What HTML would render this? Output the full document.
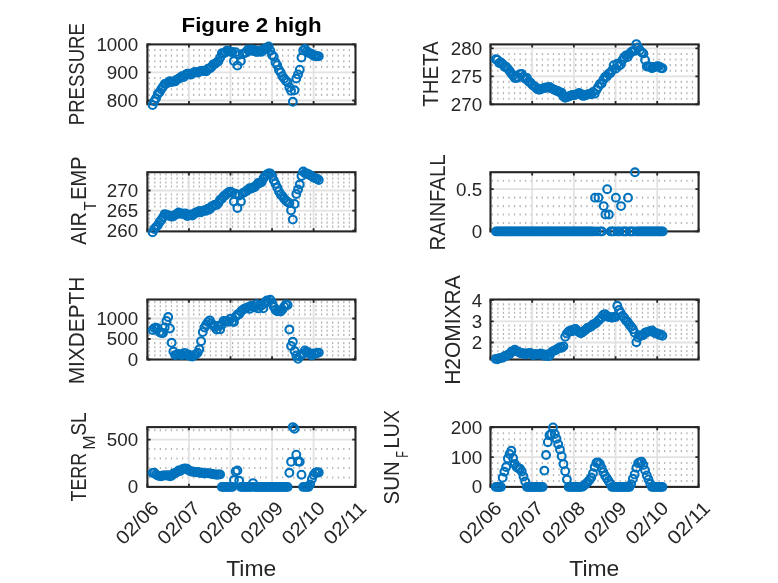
<!DOCTYPE html>
<html lang="en"><head><meta charset="utf-8"><title>Figure 2 high</title>
<style>html,body{margin:0;padding:0;background:#fff}body{width:778px;height:583px;position:relative;overflow:hidden}</style>
</head><body>
<svg width="778" height="583" viewBox="0 0 778 583" style="display:block;position:absolute;left:0;top:0" font-family="'Liberation Sans', 'DejaVu Sans', sans-serif" fill="#262626">
<rect width="778" height="583" fill="#fff"/>
<g><line x1="148.60" y1="94.89" x2="354.50" y2="94.89" stroke="#b4b4b4" stroke-width="2.1" stroke-dasharray="1.25 4.31"/><line x1="148.60" y1="89.28" x2="354.50" y2="89.28" stroke="#b4b4b4" stroke-width="2.1" stroke-dasharray="1.25 4.31"/><line x1="148.60" y1="83.67" x2="354.50" y2="83.67" stroke="#b4b4b4" stroke-width="2.1" stroke-dasharray="1.25 4.31"/><line x1="148.60" y1="78.06" x2="354.50" y2="78.06" stroke="#b4b4b4" stroke-width="2.1" stroke-dasharray="1.25 4.31"/><line x1="148.60" y1="66.84" x2="354.50" y2="66.84" stroke="#b4b4b4" stroke-width="2.1" stroke-dasharray="1.25 4.31"/><line x1="148.60" y1="61.23" x2="354.50" y2="61.23" stroke="#b4b4b4" stroke-width="2.1" stroke-dasharray="1.25 4.31"/><line x1="148.60" y1="55.62" x2="354.50" y2="55.62" stroke="#b4b4b4" stroke-width="2.1" stroke-dasharray="1.25 4.31"/><line x1="148.60" y1="50.01" x2="354.50" y2="50.01" stroke="#b4b4b4" stroke-width="2.1" stroke-dasharray="1.25 4.31"/><line x1="188.95" y1="44.40" x2="188.95" y2="104.30" stroke="#e2e2e2" stroke-width="1.8"/><line x1="230.50" y1="44.40" x2="230.50" y2="104.30" stroke="#e2e2e2" stroke-width="1.8"/><line x1="272.05" y1="44.40" x2="272.05" y2="104.30" stroke="#e2e2e2" stroke-width="1.8"/><line x1="313.60" y1="44.40" x2="313.60" y2="104.30" stroke="#e2e2e2" stroke-width="1.8"/><line x1="147.40" y1="72.45" x2="355.50" y2="72.45" stroke="#e2e2e2" stroke-width="1.8"/><line x1="147.40" y1="100.50" x2="355.50" y2="100.50" stroke="#e2e2e2" stroke-width="1.8"/><rect x="147.40" y="44.40" width="208.10" height="59.90" fill="none" stroke="#262626" stroke-width="2.1"/><path d="M147.40 104.30v-3.2M147.40 44.40v3.2M188.95 104.30v-3.2M188.95 44.40v3.2M230.50 104.30v-3.2M230.50 44.40v3.2M272.05 104.30v-3.2M272.05 44.40v3.2M313.60 104.30v-3.2M313.60 44.40v3.2M355.15 104.30v-3.2M355.15 44.40v3.2M147.40 44.40h3.2M355.50 44.40h-3.2M147.40 72.45h3.2M355.50 72.45h-3.2M147.40 100.50h3.2M355.50 100.50h-3.2" stroke="#262626" stroke-width="1.8" fill="none"/><g fill="none" stroke="#0072BD" stroke-width="2.1"><circle cx="152.59" cy="105.11" r="3.9"/><circle cx="154.33" cy="101.32" r="3.9"/><circle cx="156.06" cy="98.25" r="3.9"/><circle cx="157.79" cy="94.04" r="3.9"/><circle cx="159.52" cy="92.28" r="3.9"/><circle cx="161.25" cy="89.35" r="3.9"/><circle cx="162.98" cy="86.67" r="3.9"/><circle cx="164.71" cy="84.02" r="3.9"/><circle cx="166.44" cy="83.62" r="3.9"/><circle cx="168.18" cy="82.52" r="3.9"/><circle cx="169.91" cy="81.12" r="3.9"/><circle cx="171.64" cy="82.03" r="3.9"/><circle cx="173.37" cy="81.41" r="3.9"/><circle cx="175.10" cy="81.38" r="3.9"/><circle cx="176.83" cy="79.60" r="3.9"/><circle cx="178.56" cy="78.64" r="3.9"/><circle cx="180.29" cy="77.68" r="3.9"/><circle cx="182.03" cy="76.12" r="3.9"/><circle cx="183.76" cy="77.04" r="3.9"/><circle cx="185.49" cy="74.72" r="3.9"/><circle cx="187.22" cy="73.81" r="3.9"/><circle cx="188.95" cy="73.82" r="3.9"/><circle cx="190.68" cy="74.66" r="3.9"/><circle cx="192.41" cy="73.43" r="3.9"/><circle cx="194.14" cy="72.19" r="3.9"/><circle cx="195.88" cy="72.06" r="3.9"/><circle cx="197.61" cy="72.64" r="3.9"/><circle cx="199.34" cy="71.74" r="3.9"/><circle cx="201.07" cy="70.86" r="3.9"/><circle cx="202.80" cy="70.77" r="3.9"/><circle cx="204.53" cy="70.98" r="3.9"/><circle cx="206.26" cy="71.37" r="3.9"/><circle cx="207.99" cy="68.64" r="3.9"/><circle cx="209.72" cy="68.48" r="3.9"/><circle cx="211.46" cy="66.97" r="3.9"/><circle cx="213.19" cy="64.46" r="3.9"/><circle cx="214.92" cy="64.12" r="3.9"/><circle cx="216.65" cy="62.55" r="3.9"/><circle cx="218.38" cy="61.31" r="3.9"/><circle cx="220.11" cy="57.68" r="3.9"/><circle cx="221.84" cy="53.18" r="3.9"/><circle cx="223.57" cy="53.52" r="3.9"/><circle cx="225.31" cy="52.15" r="3.9"/><circle cx="227.04" cy="50.51" r="3.9"/><circle cx="228.77" cy="51.22" r="3.9"/><circle cx="230.50" cy="51.69" r="3.9"/><circle cx="232.23" cy="51.97" r="3.9"/><circle cx="233.96" cy="61.00" r="3.9"/><circle cx="235.69" cy="52.16" r="3.9"/><circle cx="237.43" cy="65.60" r="3.9"/><circle cx="239.16" cy="54.86" r="3.9"/><circle cx="240.89" cy="61.00" r="3.9"/><circle cx="242.62" cy="53.89" r="3.9"/><circle cx="244.35" cy="53.11" r="3.9"/><circle cx="246.08" cy="52.50" r="3.9"/><circle cx="247.81" cy="49.81" r="3.9"/><circle cx="249.54" cy="50.78" r="3.9"/><circle cx="251.28" cy="49.49" r="3.9"/><circle cx="253.01" cy="50.98" r="3.9"/><circle cx="254.74" cy="49.92" r="3.9"/><circle cx="256.47" cy="51.85" r="3.9"/><circle cx="258.20" cy="51.91" r="3.9"/><circle cx="259.93" cy="50.69" r="3.9"/><circle cx="261.66" cy="51.86" r="3.9"/><circle cx="263.39" cy="49.29" r="3.9"/><circle cx="265.12" cy="49.02" r="3.9"/><circle cx="266.86" cy="48.17" r="3.9"/><circle cx="268.59" cy="46.46" r="3.9"/><circle cx="270.32" cy="50.70" r="3.9"/><circle cx="272.05" cy="54.96" r="3.9"/><circle cx="273.78" cy="56.74" r="3.9"/><circle cx="275.51" cy="62.41" r="3.9"/><circle cx="277.24" cy="65.13" r="3.9"/><circle cx="278.98" cy="69.89" r="3.9"/><circle cx="280.71" cy="72.49" r="3.9"/><circle cx="282.44" cy="76.14" r="3.9"/><circle cx="284.17" cy="78.61" r="3.9"/><circle cx="285.90" cy="80.64" r="3.9"/><circle cx="287.63" cy="82.20" r="3.9"/><circle cx="289.36" cy="87.40" r="3.9"/><circle cx="291.09" cy="90.70" r="3.9"/><circle cx="292.82" cy="101.80" r="3.9"/><circle cx="294.56" cy="90.30" r="3.9"/><circle cx="296.29" cy="78.50" r="3.9"/><circle cx="298.02" cy="74.40" r="3.9"/><circle cx="299.75" cy="69.70" r="3.9"/><circle cx="301.48" cy="57.50" r="3.9"/><circle cx="303.21" cy="50.40" r="3.9"/><circle cx="304.94" cy="49.04" r="3.9"/><circle cx="306.68" cy="51.34" r="3.9"/><circle cx="308.41" cy="52.54" r="3.9"/><circle cx="310.14" cy="53.51" r="3.9"/><circle cx="311.87" cy="54.06" r="3.9"/><circle cx="313.60" cy="55.86" r="3.9"/><circle cx="315.33" cy="55.98" r="3.9"/><circle cx="317.06" cy="56.06" r="3.9"/><circle cx="318.79" cy="56.37" r="3.9"/></g><text x="138.20" y="50.80" font-size="18.8" text-anchor="end">1000</text><text x="138.20" y="78.85" font-size="18.8" text-anchor="end">900</text><text x="138.20" y="106.90" font-size="18.8" text-anchor="end">800</text></g>
<g><line x1="491.70" y1="98.70" x2="697.60" y2="98.70" stroke="#b4b4b4" stroke-width="2.1" stroke-dasharray="1.25 4.31"/><line x1="491.70" y1="93.11" x2="697.60" y2="93.11" stroke="#b4b4b4" stroke-width="2.1" stroke-dasharray="1.25 4.31"/><line x1="491.70" y1="87.52" x2="697.60" y2="87.52" stroke="#b4b4b4" stroke-width="2.1" stroke-dasharray="1.25 4.31"/><line x1="491.70" y1="81.92" x2="697.60" y2="81.92" stroke="#b4b4b4" stroke-width="2.1" stroke-dasharray="1.25 4.31"/><line x1="491.70" y1="70.73" x2="697.60" y2="70.73" stroke="#b4b4b4" stroke-width="2.1" stroke-dasharray="1.25 4.31"/><line x1="491.70" y1="65.14" x2="697.60" y2="65.14" stroke="#b4b4b4" stroke-width="2.1" stroke-dasharray="1.25 4.31"/><line x1="491.70" y1="59.54" x2="697.60" y2="59.54" stroke="#b4b4b4" stroke-width="2.1" stroke-dasharray="1.25 4.31"/><line x1="491.70" y1="53.95" x2="697.60" y2="53.95" stroke="#b4b4b4" stroke-width="2.1" stroke-dasharray="1.25 4.31"/><line x1="532.18" y1="44.40" x2="532.18" y2="104.30" stroke="#e2e2e2" stroke-width="1.8"/><line x1="573.86" y1="44.40" x2="573.86" y2="104.30" stroke="#e2e2e2" stroke-width="1.8"/><line x1="615.54" y1="44.40" x2="615.54" y2="104.30" stroke="#e2e2e2" stroke-width="1.8"/><line x1="657.22" y1="44.40" x2="657.22" y2="104.30" stroke="#e2e2e2" stroke-width="1.8"/><line x1="490.50" y1="48.35" x2="698.60" y2="48.35" stroke="#e2e2e2" stroke-width="1.8"/><line x1="490.50" y1="76.30" x2="698.60" y2="76.30" stroke="#e2e2e2" stroke-width="1.8"/><rect x="490.50" y="44.40" width="208.10" height="59.90" fill="none" stroke="#262626" stroke-width="2.1"/><path d="M490.50 104.30v-3.2M490.50 44.40v3.2M532.18 104.30v-3.2M532.18 44.40v3.2M573.86 104.30v-3.2M573.86 44.40v3.2M615.54 104.30v-3.2M615.54 44.40v3.2M657.22 104.30v-3.2M657.22 44.40v3.2M698.60 104.30v-3.2M698.60 44.40v3.2M490.50 48.35h3.2M698.60 48.35h-3.2M490.50 76.30h3.2M698.60 76.30h-3.2M490.50 104.30h3.2M698.60 104.30h-3.2" stroke="#262626" stroke-width="1.8" fill="none"/><g fill="none" stroke="#0072BD" stroke-width="2.1"><circle cx="495.71" cy="59.18" r="3.9"/><circle cx="497.45" cy="59.91" r="3.9"/><circle cx="499.18" cy="63.11" r="3.9"/><circle cx="500.92" cy="62.50" r="3.9"/><circle cx="502.66" cy="64.03" r="3.9"/><circle cx="504.39" cy="66.70" r="3.9"/><circle cx="506.13" cy="66.69" r="3.9"/><circle cx="507.87" cy="68.65" r="3.9"/><circle cx="509.60" cy="71.11" r="3.9"/><circle cx="511.34" cy="73.50" r="3.9"/><circle cx="513.08" cy="75.54" r="3.9"/><circle cx="514.81" cy="77.97" r="3.9"/><circle cx="516.55" cy="78.02" r="3.9"/><circle cx="518.29" cy="77.20" r="3.9"/><circle cx="520.02" cy="74.12" r="3.9"/><circle cx="521.76" cy="73.92" r="3.9"/><circle cx="523.50" cy="76.74" r="3.9"/><circle cx="525.23" cy="78.75" r="3.9"/><circle cx="526.97" cy="77.92" r="3.9"/><circle cx="528.71" cy="81.58" r="3.9"/><circle cx="530.44" cy="82.60" r="3.9"/><circle cx="532.18" cy="84.85" r="3.9"/><circle cx="533.92" cy="86.10" r="3.9"/><circle cx="535.65" cy="87.28" r="3.9"/><circle cx="537.39" cy="89.14" r="3.9"/><circle cx="539.13" cy="89.81" r="3.9"/><circle cx="540.86" cy="89.26" r="3.9"/><circle cx="542.60" cy="88.39" r="3.9"/><circle cx="544.34" cy="88.07" r="3.9"/><circle cx="546.07" cy="87.43" r="3.9"/><circle cx="547.81" cy="87.48" r="3.9"/><circle cx="549.55" cy="87.02" r="3.9"/><circle cx="551.28" cy="88.32" r="3.9"/><circle cx="553.02" cy="89.11" r="3.9"/><circle cx="554.76" cy="90.00" r="3.9"/><circle cx="556.49" cy="90.77" r="3.9"/><circle cx="558.23" cy="91.16" r="3.9"/><circle cx="559.97" cy="92.38" r="3.9"/><circle cx="561.70" cy="92.71" r="3.9"/><circle cx="563.44" cy="96.51" r="3.9"/><circle cx="565.18" cy="97.85" r="3.9"/><circle cx="566.91" cy="96.92" r="3.9"/><circle cx="568.65" cy="96.47" r="3.9"/><circle cx="570.39" cy="95.79" r="3.9"/><circle cx="572.12" cy="94.88" r="3.9"/><circle cx="573.86" cy="95.20" r="3.9"/><circle cx="575.60" cy="94.75" r="3.9"/><circle cx="577.33" cy="93.95" r="3.9"/><circle cx="579.07" cy="93.03" r="3.9"/><circle cx="580.81" cy="93.83" r="3.9"/><circle cx="582.54" cy="95.76" r="3.9"/><circle cx="584.28" cy="95.79" r="3.9"/><circle cx="586.02" cy="94.71" r="3.9"/><circle cx="587.75" cy="94.50" r="3.9"/><circle cx="589.49" cy="93.94" r="3.9"/><circle cx="591.23" cy="94.28" r="3.9"/><circle cx="592.96" cy="91.99" r="3.9"/><circle cx="594.70" cy="93.66" r="3.9"/><circle cx="596.44" cy="89.91" r="3.9"/><circle cx="598.17" cy="86.95" r="3.9"/><circle cx="599.91" cy="83.95" r="3.9"/><circle cx="601.65" cy="83.58" r="3.9"/><circle cx="603.38" cy="79.74" r="3.9"/><circle cx="605.12" cy="76.85" r="3.9"/><circle cx="606.86" cy="76.59" r="3.9"/><circle cx="608.59" cy="73.75" r="3.9"/><circle cx="610.33" cy="73.30" r="3.9"/><circle cx="612.07" cy="70.25" r="3.9"/><circle cx="613.80" cy="65.18" r="3.9"/><circle cx="615.54" cy="68.66" r="3.9"/><circle cx="617.28" cy="63.70" r="3.9"/><circle cx="619.01" cy="65.85" r="3.9"/><circle cx="620.75" cy="64.40" r="3.9"/><circle cx="622.49" cy="59.88" r="3.9"/><circle cx="624.22" cy="57.36" r="3.9"/><circle cx="625.96" cy="55.51" r="3.9"/><circle cx="627.70" cy="56.99" r="3.9"/><circle cx="629.43" cy="54.03" r="3.9"/><circle cx="631.17" cy="51.96" r="3.9"/><circle cx="632.91" cy="50.90" r="3.9"/><circle cx="634.64" cy="50.88" r="3.9"/><circle cx="636.38" cy="44.10" r="3.9"/><circle cx="638.12" cy="47.50" r="3.9"/><circle cx="639.85" cy="50.30" r="3.9"/><circle cx="641.59" cy="52.20" r="3.9"/><circle cx="643.33" cy="53.40" r="3.9"/><circle cx="645.06" cy="59.90" r="3.9"/><circle cx="646.80" cy="66.50" r="3.9"/><circle cx="648.54" cy="66.40" r="3.9"/><circle cx="650.27" cy="66.76" r="3.9"/><circle cx="652.01" cy="68.13" r="3.9"/><circle cx="653.75" cy="67.05" r="3.9"/><circle cx="655.48" cy="66.89" r="3.9"/><circle cx="657.22" cy="66.14" r="3.9"/><circle cx="658.96" cy="66.37" r="3.9"/><circle cx="660.69" cy="68.08" r="3.9"/><circle cx="662.43" cy="68.31" r="3.9"/></g><text x="482.20" y="54.75" font-size="18.8" text-anchor="end">280</text><text x="482.20" y="82.70" font-size="18.8" text-anchor="end">275</text><text x="482.20" y="110.70" font-size="18.8" text-anchor="end">270</text></g>
<g><line x1="148.60" y1="226.59" x2="354.50" y2="226.59" stroke="#b4b4b4" stroke-width="2.1" stroke-dasharray="1.25 4.31"/><line x1="148.60" y1="222.58" x2="354.50" y2="222.58" stroke="#b4b4b4" stroke-width="2.1" stroke-dasharray="1.25 4.31"/><line x1="148.60" y1="218.57" x2="354.50" y2="218.57" stroke="#b4b4b4" stroke-width="2.1" stroke-dasharray="1.25 4.31"/><line x1="148.60" y1="214.56" x2="354.50" y2="214.56" stroke="#b4b4b4" stroke-width="2.1" stroke-dasharray="1.25 4.31"/><line x1="148.60" y1="206.54" x2="354.50" y2="206.54" stroke="#b4b4b4" stroke-width="2.1" stroke-dasharray="1.25 4.31"/><line x1="148.60" y1="202.53" x2="354.50" y2="202.53" stroke="#b4b4b4" stroke-width="2.1" stroke-dasharray="1.25 4.31"/><line x1="148.60" y1="198.52" x2="354.50" y2="198.52" stroke="#b4b4b4" stroke-width="2.1" stroke-dasharray="1.25 4.31"/><line x1="148.60" y1="194.51" x2="354.50" y2="194.51" stroke="#b4b4b4" stroke-width="2.1" stroke-dasharray="1.25 4.31"/><line x1="148.60" y1="186.49" x2="354.50" y2="186.49" stroke="#b4b4b4" stroke-width="2.1" stroke-dasharray="1.25 4.31"/><line x1="148.60" y1="182.48" x2="354.50" y2="182.48" stroke="#b4b4b4" stroke-width="2.1" stroke-dasharray="1.25 4.31"/><line x1="148.60" y1="178.47" x2="354.50" y2="178.47" stroke="#b4b4b4" stroke-width="2.1" stroke-dasharray="1.25 4.31"/><line x1="148.60" y1="174.46" x2="354.50" y2="174.46" stroke="#b4b4b4" stroke-width="2.1" stroke-dasharray="1.25 4.31"/><line x1="188.95" y1="172.20" x2="188.95" y2="231.40" stroke="#e2e2e2" stroke-width="1.8"/><line x1="230.50" y1="172.20" x2="230.50" y2="231.40" stroke="#e2e2e2" stroke-width="1.8"/><line x1="272.05" y1="172.20" x2="272.05" y2="231.40" stroke="#e2e2e2" stroke-width="1.8"/><line x1="313.60" y1="172.20" x2="313.60" y2="231.40" stroke="#e2e2e2" stroke-width="1.8"/><line x1="147.40" y1="190.50" x2="355.50" y2="190.50" stroke="#e2e2e2" stroke-width="1.8"/><line x1="147.40" y1="210.55" x2="355.50" y2="210.55" stroke="#e2e2e2" stroke-width="1.8"/><rect x="147.40" y="172.20" width="208.10" height="59.20" fill="none" stroke="#262626" stroke-width="2.1"/><path d="M147.40 231.40v-3.2M147.40 172.20v3.2M188.95 231.40v-3.2M188.95 172.20v3.2M230.50 231.40v-3.2M230.50 172.20v3.2M272.05 231.40v-3.2M272.05 172.20v3.2M313.60 231.40v-3.2M313.60 172.20v3.2M355.15 231.40v-3.2M355.15 172.20v3.2M147.40 190.50h3.2M355.50 190.50h-3.2M147.40 210.55h3.2M355.50 210.55h-3.2M147.40 230.60h3.2M355.50 230.60h-3.2" stroke="#262626" stroke-width="1.8" fill="none"/><g fill="none" stroke="#0072BD" stroke-width="2.1"><circle cx="152.59" cy="232.33" r="3.9"/><circle cx="154.33" cy="228.93" r="3.9"/><circle cx="156.06" cy="227.12" r="3.9"/><circle cx="157.79" cy="225.23" r="3.9"/><circle cx="159.52" cy="222.13" r="3.9"/><circle cx="161.25" cy="219.98" r="3.9"/><circle cx="162.98" cy="217.35" r="3.9"/><circle cx="164.71" cy="214.11" r="3.9"/><circle cx="166.44" cy="214.79" r="3.9"/><circle cx="168.18" cy="215.51" r="3.9"/><circle cx="169.91" cy="215.74" r="3.9"/><circle cx="171.64" cy="216.63" r="3.9"/><circle cx="173.37" cy="216.18" r="3.9"/><circle cx="175.10" cy="214.87" r="3.9"/><circle cx="176.83" cy="214.03" r="3.9"/><circle cx="178.56" cy="212.53" r="3.9"/><circle cx="180.29" cy="213.73" r="3.9"/><circle cx="182.03" cy="213.47" r="3.9"/><circle cx="183.76" cy="213.99" r="3.9"/><circle cx="185.49" cy="213.55" r="3.9"/><circle cx="187.22" cy="216.09" r="3.9"/><circle cx="188.95" cy="215.40" r="3.9"/><circle cx="190.68" cy="214.55" r="3.9"/><circle cx="192.41" cy="215.48" r="3.9"/><circle cx="194.14" cy="213.72" r="3.9"/><circle cx="195.88" cy="212.36" r="3.9"/><circle cx="197.61" cy="212.47" r="3.9"/><circle cx="199.34" cy="210.83" r="3.9"/><circle cx="201.07" cy="212.32" r="3.9"/><circle cx="202.80" cy="210.93" r="3.9"/><circle cx="204.53" cy="210.19" r="3.9"/><circle cx="206.26" cy="210.75" r="3.9"/><circle cx="207.99" cy="208.58" r="3.9"/><circle cx="209.72" cy="209.26" r="3.9"/><circle cx="211.46" cy="206.49" r="3.9"/><circle cx="213.19" cy="206.12" r="3.9"/><circle cx="214.92" cy="204.58" r="3.9"/><circle cx="216.65" cy="204.90" r="3.9"/><circle cx="218.38" cy="203.07" r="3.9"/><circle cx="220.11" cy="199.80" r="3.9"/><circle cx="221.84" cy="198.66" r="3.9"/><circle cx="223.57" cy="196.32" r="3.9"/><circle cx="225.31" cy="195.19" r="3.9"/><circle cx="227.04" cy="193.55" r="3.9"/><circle cx="228.77" cy="192.13" r="3.9"/><circle cx="230.50" cy="191.64" r="3.9"/><circle cx="232.23" cy="192.80" r="3.9"/><circle cx="233.96" cy="201.50" r="3.9"/><circle cx="235.69" cy="193.80" r="3.9"/><circle cx="237.43" cy="208.00" r="3.9"/><circle cx="239.16" cy="195.46" r="3.9"/><circle cx="240.89" cy="201.50" r="3.9"/><circle cx="242.62" cy="193.22" r="3.9"/><circle cx="244.35" cy="192.37" r="3.9"/><circle cx="246.08" cy="191.20" r="3.9"/><circle cx="247.81" cy="189.99" r="3.9"/><circle cx="249.54" cy="188.23" r="3.9"/><circle cx="251.28" cy="188.60" r="3.9"/><circle cx="253.01" cy="187.44" r="3.9"/><circle cx="254.74" cy="187.11" r="3.9"/><circle cx="256.47" cy="185.08" r="3.9"/><circle cx="258.20" cy="183.06" r="3.9"/><circle cx="259.93" cy="183.05" r="3.9"/><circle cx="261.66" cy="182.04" r="3.9"/><circle cx="263.39" cy="178.59" r="3.9"/><circle cx="265.12" cy="176.10" r="3.9"/><circle cx="266.86" cy="174.43" r="3.9"/><circle cx="268.59" cy="173.39" r="3.9"/><circle cx="270.32" cy="173.43" r="3.9"/><circle cx="272.05" cy="175.67" r="3.9"/><circle cx="273.78" cy="180.31" r="3.9"/><circle cx="275.51" cy="183.63" r="3.9"/><circle cx="277.24" cy="187.54" r="3.9"/><circle cx="278.98" cy="191.42" r="3.9"/><circle cx="280.71" cy="194.39" r="3.9"/><circle cx="282.44" cy="196.13" r="3.9"/><circle cx="284.17" cy="198.77" r="3.9"/><circle cx="285.90" cy="200.74" r="3.9"/><circle cx="287.63" cy="201.92" r="3.9"/><circle cx="289.36" cy="203.13" r="3.9"/><circle cx="291.09" cy="210.30" r="3.9"/><circle cx="292.82" cy="219.60" r="3.9"/><circle cx="294.56" cy="203.90" r="3.9"/><circle cx="296.29" cy="194.00" r="3.9"/><circle cx="298.02" cy="189.50" r="3.9"/><circle cx="299.75" cy="184.50" r="3.9"/><circle cx="301.48" cy="176.00" r="3.9"/><circle cx="303.21" cy="171.50" r="3.9"/><circle cx="304.94" cy="173.13" r="3.9"/><circle cx="306.68" cy="173.46" r="3.9"/><circle cx="308.41" cy="174.24" r="3.9"/><circle cx="310.14" cy="175.31" r="3.9"/><circle cx="311.87" cy="176.19" r="3.9"/><circle cx="313.60" cy="177.45" r="3.9"/><circle cx="315.33" cy="178.30" r="3.9"/><circle cx="317.06" cy="178.67" r="3.9"/><circle cx="318.79" cy="180.06" r="3.9"/></g><text x="138.20" y="196.90" font-size="18.8" text-anchor="end">270</text><text x="138.20" y="216.95" font-size="18.8" text-anchor="end">265</text><text x="138.20" y="237.00" font-size="18.8" text-anchor="end">260</text></g>
<g><line x1="491.70" y1="222.96" x2="697.60" y2="222.96" stroke="#b4b4b4" stroke-width="2.1" stroke-dasharray="1.25 4.31"/><line x1="491.70" y1="214.52" x2="697.60" y2="214.52" stroke="#b4b4b4" stroke-width="2.1" stroke-dasharray="1.25 4.31"/><line x1="491.70" y1="206.08" x2="697.60" y2="206.08" stroke="#b4b4b4" stroke-width="2.1" stroke-dasharray="1.25 4.31"/><line x1="491.70" y1="197.64" x2="697.60" y2="197.64" stroke="#b4b4b4" stroke-width="2.1" stroke-dasharray="1.25 4.31"/><line x1="491.70" y1="180.76" x2="697.60" y2="180.76" stroke="#b4b4b4" stroke-width="2.1" stroke-dasharray="1.25 4.31"/><line x1="532.18" y1="172.20" x2="532.18" y2="231.40" stroke="#e2e2e2" stroke-width="1.8"/><line x1="573.86" y1="172.20" x2="573.86" y2="231.40" stroke="#e2e2e2" stroke-width="1.8"/><line x1="615.54" y1="172.20" x2="615.54" y2="231.40" stroke="#e2e2e2" stroke-width="1.8"/><line x1="657.22" y1="172.20" x2="657.22" y2="231.40" stroke="#e2e2e2" stroke-width="1.8"/><line x1="490.50" y1="189.20" x2="698.60" y2="189.20" stroke="#e2e2e2" stroke-width="1.8"/><rect x="490.50" y="172.20" width="208.10" height="59.20" fill="none" stroke="#262626" stroke-width="2.1"/><path d="M490.50 231.40v-3.2M490.50 172.20v3.2M532.18 231.40v-3.2M532.18 172.20v3.2M573.86 231.40v-3.2M573.86 172.20v3.2M615.54 231.40v-3.2M615.54 172.20v3.2M657.22 231.40v-3.2M657.22 172.20v3.2M698.60 231.40v-3.2M698.60 172.20v3.2M490.50 189.20h3.2M698.60 189.20h-3.2M490.50 231.40h3.2M698.60 231.40h-3.2" stroke="#262626" stroke-width="1.8" fill="none"/><g fill="none" stroke="#0072BD" stroke-width="2.1"><circle cx="496.01" cy="231.40" r="3.9"/><circle cx="497.75" cy="231.40" r="3.9"/><circle cx="499.48" cy="231.40" r="3.9"/><circle cx="501.22" cy="231.40" r="3.9"/><circle cx="502.96" cy="231.40" r="3.9"/><circle cx="504.69" cy="231.40" r="3.9"/><circle cx="506.43" cy="231.40" r="3.9"/><circle cx="508.17" cy="231.40" r="3.9"/><circle cx="509.90" cy="231.40" r="3.9"/><circle cx="511.64" cy="231.40" r="3.9"/><circle cx="513.38" cy="231.40" r="3.9"/><circle cx="515.11" cy="231.40" r="3.9"/><circle cx="516.85" cy="231.40" r="3.9"/><circle cx="518.59" cy="231.40" r="3.9"/><circle cx="520.32" cy="231.40" r="3.9"/><circle cx="522.06" cy="231.40" r="3.9"/><circle cx="523.80" cy="231.40" r="3.9"/><circle cx="525.53" cy="231.40" r="3.9"/><circle cx="527.27" cy="231.40" r="3.9"/><circle cx="529.01" cy="231.40" r="3.9"/><circle cx="530.74" cy="231.40" r="3.9"/><circle cx="532.48" cy="231.40" r="3.9"/><circle cx="534.22" cy="231.40" r="3.9"/><circle cx="535.95" cy="231.40" r="3.9"/><circle cx="537.69" cy="231.40" r="3.9"/><circle cx="539.43" cy="231.40" r="3.9"/><circle cx="541.16" cy="231.40" r="3.9"/><circle cx="542.90" cy="231.40" r="3.9"/><circle cx="544.64" cy="231.40" r="3.9"/><circle cx="546.37" cy="231.40" r="3.9"/><circle cx="548.11" cy="231.40" r="3.9"/><circle cx="549.85" cy="231.40" r="3.9"/><circle cx="551.58" cy="231.40" r="3.9"/><circle cx="553.32" cy="231.40" r="3.9"/><circle cx="555.06" cy="231.40" r="3.9"/><circle cx="556.79" cy="231.40" r="3.9"/><circle cx="558.53" cy="231.40" r="3.9"/><circle cx="560.27" cy="231.40" r="3.9"/><circle cx="562.00" cy="231.40" r="3.9"/><circle cx="563.74" cy="231.40" r="3.9"/><circle cx="565.48" cy="231.40" r="3.9"/><circle cx="567.21" cy="231.40" r="3.9"/><circle cx="568.95" cy="231.40" r="3.9"/><circle cx="570.69" cy="231.40" r="3.9"/><circle cx="572.42" cy="231.40" r="3.9"/><circle cx="574.16" cy="231.40" r="3.9"/><circle cx="575.90" cy="231.40" r="3.9"/><circle cx="577.63" cy="231.40" r="3.9"/><circle cx="579.37" cy="231.40" r="3.9"/><circle cx="581.11" cy="231.40" r="3.9"/><circle cx="582.84" cy="231.40" r="3.9"/><circle cx="584.58" cy="231.40" r="3.9"/><circle cx="586.32" cy="231.40" r="3.9"/><circle cx="588.05" cy="231.40" r="3.9"/><circle cx="589.79" cy="231.40" r="3.9"/><circle cx="591.53" cy="231.40" r="3.9"/><circle cx="593.26" cy="231.40" r="3.9"/><circle cx="595.00" cy="197.64" r="3.9"/><circle cx="596.74" cy="231.40" r="3.9"/><circle cx="598.47" cy="197.64" r="3.9"/><circle cx="600.21" cy="231.40" r="3.9"/><circle cx="601.95" cy="231.40" r="3.9"/><circle cx="603.68" cy="206.08" r="3.9"/><circle cx="605.42" cy="214.52" r="3.9"/><circle cx="607.16" cy="189.20" r="3.9"/><circle cx="608.89" cy="214.52" r="3.9"/><circle cx="610.63" cy="231.40" r="3.9"/><circle cx="612.37" cy="231.40" r="3.9"/><circle cx="614.10" cy="231.40" r="3.9"/><circle cx="615.84" cy="197.64" r="3.9"/><circle cx="617.58" cy="231.40" r="3.9"/><circle cx="619.31" cy="231.40" r="3.9"/><circle cx="621.05" cy="206.08" r="3.9"/><circle cx="622.79" cy="231.40" r="3.9"/><circle cx="624.52" cy="231.40" r="3.9"/><circle cx="626.26" cy="231.40" r="3.9"/><circle cx="628.00" cy="197.64" r="3.9"/><circle cx="629.73" cy="231.40" r="3.9"/><circle cx="631.47" cy="231.40" r="3.9"/><circle cx="633.21" cy="231.40" r="3.9"/><circle cx="634.94" cy="172.32" r="3.9"/><circle cx="636.68" cy="231.40" r="3.9"/><circle cx="638.42" cy="231.40" r="3.9"/><circle cx="640.15" cy="231.40" r="3.9"/><circle cx="641.89" cy="231.40" r="3.9"/><circle cx="643.63" cy="231.40" r="3.9"/><circle cx="645.36" cy="231.40" r="3.9"/><circle cx="647.10" cy="231.40" r="3.9"/><circle cx="648.84" cy="231.40" r="3.9"/><circle cx="650.57" cy="231.40" r="3.9"/><circle cx="652.31" cy="231.40" r="3.9"/><circle cx="654.05" cy="231.40" r="3.9"/><circle cx="655.78" cy="231.40" r="3.9"/><circle cx="657.52" cy="231.40" r="3.9"/><circle cx="659.26" cy="231.40" r="3.9"/><circle cx="660.99" cy="231.40" r="3.9"/><circle cx="662.73" cy="231.40" r="3.9"/></g><text x="482.20" y="195.60" font-size="18.8" text-anchor="end">0.5</text><text x="482.20" y="237.80" font-size="18.8" text-anchor="end">0</text></g>
<g><line x1="148.60" y1="355.40" x2="354.50" y2="355.40" stroke="#b4b4b4" stroke-width="2.1" stroke-dasharray="1.25 4.31"/><line x1="148.60" y1="351.30" x2="354.50" y2="351.30" stroke="#b4b4b4" stroke-width="2.1" stroke-dasharray="1.25 4.31"/><line x1="148.60" y1="347.20" x2="354.50" y2="347.20" stroke="#b4b4b4" stroke-width="2.1" stroke-dasharray="1.25 4.31"/><line x1="148.60" y1="343.10" x2="354.50" y2="343.10" stroke="#b4b4b4" stroke-width="2.1" stroke-dasharray="1.25 4.31"/><line x1="148.60" y1="334.90" x2="354.50" y2="334.90" stroke="#b4b4b4" stroke-width="2.1" stroke-dasharray="1.25 4.31"/><line x1="148.60" y1="330.80" x2="354.50" y2="330.80" stroke="#b4b4b4" stroke-width="2.1" stroke-dasharray="1.25 4.31"/><line x1="148.60" y1="326.70" x2="354.50" y2="326.70" stroke="#b4b4b4" stroke-width="2.1" stroke-dasharray="1.25 4.31"/><line x1="148.60" y1="322.60" x2="354.50" y2="322.60" stroke="#b4b4b4" stroke-width="2.1" stroke-dasharray="1.25 4.31"/><line x1="148.60" y1="314.40" x2="354.50" y2="314.40" stroke="#b4b4b4" stroke-width="2.1" stroke-dasharray="1.25 4.31"/><line x1="148.60" y1="310.30" x2="354.50" y2="310.30" stroke="#b4b4b4" stroke-width="2.1" stroke-dasharray="1.25 4.31"/><line x1="148.60" y1="306.20" x2="354.50" y2="306.20" stroke="#b4b4b4" stroke-width="2.1" stroke-dasharray="1.25 4.31"/><line x1="148.60" y1="302.10" x2="354.50" y2="302.10" stroke="#b4b4b4" stroke-width="2.1" stroke-dasharray="1.25 4.31"/><line x1="188.95" y1="299.50" x2="188.95" y2="359.50" stroke="#e2e2e2" stroke-width="1.8"/><line x1="230.50" y1="299.50" x2="230.50" y2="359.50" stroke="#e2e2e2" stroke-width="1.8"/><line x1="272.05" y1="299.50" x2="272.05" y2="359.50" stroke="#e2e2e2" stroke-width="1.8"/><line x1="313.60" y1="299.50" x2="313.60" y2="359.50" stroke="#e2e2e2" stroke-width="1.8"/><line x1="147.40" y1="318.50" x2="355.50" y2="318.50" stroke="#e2e2e2" stroke-width="1.8"/><line x1="147.40" y1="339.00" x2="355.50" y2="339.00" stroke="#e2e2e2" stroke-width="1.8"/><rect x="147.40" y="299.50" width="208.10" height="60.00" fill="none" stroke="#262626" stroke-width="2.1"/><path d="M147.40 359.50v-3.2M147.40 299.50v3.2M188.95 359.50v-3.2M188.95 299.50v3.2M230.50 359.50v-3.2M230.50 299.50v3.2M272.05 359.50v-3.2M272.05 299.50v3.2M313.60 359.50v-3.2M313.60 299.50v3.2M355.15 359.50v-3.2M355.15 299.50v3.2M147.40 318.50h3.2M355.50 318.50h-3.2M147.40 339.00h3.2M355.50 339.00h-3.2M147.40 359.50h3.2M355.50 359.50h-3.2" stroke="#262626" stroke-width="1.8" fill="none"/><g fill="none" stroke="#0072BD" stroke-width="2.1"><circle cx="152.59" cy="329.99" r="3.9"/><circle cx="154.33" cy="328.08" r="3.9"/><circle cx="156.06" cy="327.82" r="3.9"/><circle cx="157.79" cy="328.49" r="3.9"/><circle cx="159.52" cy="332.05" r="3.9"/><circle cx="161.25" cy="333.03" r="3.9"/><circle cx="162.98" cy="333.04" r="3.9"/><circle cx="164.71" cy="327.40" r="3.9"/><circle cx="166.44" cy="320.97" r="3.9"/><circle cx="168.18" cy="317.04" r="3.9"/><circle cx="169.91" cy="328.46" r="3.9"/><circle cx="171.64" cy="342.80" r="3.9"/><circle cx="173.37" cy="351.54" r="3.9"/><circle cx="175.10" cy="355.10" r="3.9"/><circle cx="176.83" cy="354.48" r="3.9"/><circle cx="178.56" cy="354.05" r="3.9"/><circle cx="180.29" cy="354.87" r="3.9"/><circle cx="182.03" cy="354.93" r="3.9"/><circle cx="183.76" cy="353.16" r="3.9"/><circle cx="185.49" cy="353.17" r="3.9"/><circle cx="187.22" cy="355.19" r="3.9"/><circle cx="188.95" cy="354.82" r="3.9"/><circle cx="190.68" cy="356.28" r="3.9"/><circle cx="192.41" cy="356.57" r="3.9"/><circle cx="194.14" cy="355.23" r="3.9"/><circle cx="195.88" cy="354.16" r="3.9"/><circle cx="197.61" cy="352.82" r="3.9"/><circle cx="199.34" cy="349.34" r="3.9"/><circle cx="201.07" cy="341.17" r="3.9"/><circle cx="202.80" cy="332.10" r="3.9"/><circle cx="204.53" cy="327.60" r="3.9"/><circle cx="206.26" cy="324.38" r="3.9"/><circle cx="207.99" cy="322.08" r="3.9"/><circle cx="209.72" cy="320.33" r="3.9"/><circle cx="211.46" cy="323.34" r="3.9"/><circle cx="213.19" cy="325.61" r="3.9"/><circle cx="214.92" cy="327.11" r="3.9"/><circle cx="216.65" cy="329.44" r="3.9"/><circle cx="218.38" cy="325.69" r="3.9"/><circle cx="220.11" cy="329.38" r="3.9"/><circle cx="221.84" cy="324.73" r="3.9"/><circle cx="223.57" cy="320.89" r="3.9"/><circle cx="225.31" cy="321.60" r="3.9"/><circle cx="227.04" cy="321.15" r="3.9"/><circle cx="228.77" cy="321.76" r="3.9"/><circle cx="230.50" cy="318.82" r="3.9"/><circle cx="232.23" cy="321.48" r="3.9"/><circle cx="233.96" cy="322.07" r="3.9"/><circle cx="235.69" cy="316.82" r="3.9"/><circle cx="237.43" cy="314.49" r="3.9"/><circle cx="239.16" cy="314.24" r="3.9"/><circle cx="240.89" cy="311.50" r="3.9"/><circle cx="242.62" cy="310.07" r="3.9"/><circle cx="244.35" cy="308.78" r="3.9"/><circle cx="246.08" cy="308.12" r="3.9"/><circle cx="247.81" cy="307.28" r="3.9"/><circle cx="249.54" cy="308.88" r="3.9"/><circle cx="251.28" cy="305.77" r="3.9"/><circle cx="253.01" cy="306.79" r="3.9"/><circle cx="254.74" cy="307.40" r="3.9"/><circle cx="256.47" cy="304.27" r="3.9"/><circle cx="258.20" cy="308.42" r="3.9"/><circle cx="259.93" cy="304.86" r="3.9"/><circle cx="261.66" cy="305.45" r="3.9"/><circle cx="263.39" cy="308.29" r="3.9"/><circle cx="265.12" cy="302.05" r="3.9"/><circle cx="266.86" cy="300.56" r="3.9"/><circle cx="268.59" cy="301.76" r="3.9"/><circle cx="270.32" cy="299.78" r="3.9"/><circle cx="272.05" cy="302.78" r="3.9"/><circle cx="273.78" cy="306.87" r="3.9"/><circle cx="275.51" cy="309.94" r="3.9"/><circle cx="277.24" cy="311.33" r="3.9"/><circle cx="278.98" cy="310.51" r="3.9"/><circle cx="280.71" cy="311.48" r="3.9"/><circle cx="282.44" cy="309.43" r="3.9"/><circle cx="284.17" cy="306.67" r="3.9"/><circle cx="285.90" cy="304.40" r="3.9"/><circle cx="287.63" cy="305.03" r="3.9"/><circle cx="289.36" cy="329.50" r="3.9"/><circle cx="291.09" cy="346.00" r="3.9"/><circle cx="292.82" cy="341.80" r="3.9"/><circle cx="294.56" cy="351.00" r="3.9"/><circle cx="296.29" cy="355.50" r="3.9"/><circle cx="298.02" cy="358.80" r="3.9"/><circle cx="299.75" cy="356.22" r="3.9"/><circle cx="301.48" cy="354.32" r="3.9"/><circle cx="303.21" cy="353.96" r="3.9"/><circle cx="304.94" cy="350.45" r="3.9"/><circle cx="306.68" cy="351.76" r="3.9"/><circle cx="308.41" cy="352.47" r="3.9"/><circle cx="310.14" cy="353.63" r="3.9"/><circle cx="311.87" cy="355.53" r="3.9"/><circle cx="313.60" cy="353.45" r="3.9"/><circle cx="315.33" cy="353.72" r="3.9"/><circle cx="317.06" cy="352.96" r="3.9"/><circle cx="318.79" cy="352.61" r="3.9"/></g><text x="138.20" y="324.90" font-size="18.8" text-anchor="end">1000</text><text x="138.20" y="345.40" font-size="18.8" text-anchor="end">500</text><text x="138.20" y="365.90" font-size="18.8" text-anchor="end">0</text></g>
<g><line x1="491.70" y1="355.22" x2="697.60" y2="355.22" stroke="#b4b4b4" stroke-width="2.1" stroke-dasharray="1.25 4.31"/><line x1="491.70" y1="350.98" x2="697.60" y2="350.98" stroke="#b4b4b4" stroke-width="2.1" stroke-dasharray="1.25 4.31"/><line x1="491.70" y1="346.74" x2="697.60" y2="346.74" stroke="#b4b4b4" stroke-width="2.1" stroke-dasharray="1.25 4.31"/><line x1="491.70" y1="338.26" x2="697.60" y2="338.26" stroke="#b4b4b4" stroke-width="2.1" stroke-dasharray="1.25 4.31"/><line x1="491.70" y1="334.02" x2="697.60" y2="334.02" stroke="#b4b4b4" stroke-width="2.1" stroke-dasharray="1.25 4.31"/><line x1="491.70" y1="329.78" x2="697.60" y2="329.78" stroke="#b4b4b4" stroke-width="2.1" stroke-dasharray="1.25 4.31"/><line x1="491.70" y1="325.54" x2="697.60" y2="325.54" stroke="#b4b4b4" stroke-width="2.1" stroke-dasharray="1.25 4.31"/><line x1="491.70" y1="317.06" x2="697.60" y2="317.06" stroke="#b4b4b4" stroke-width="2.1" stroke-dasharray="1.25 4.31"/><line x1="491.70" y1="312.82" x2="697.60" y2="312.82" stroke="#b4b4b4" stroke-width="2.1" stroke-dasharray="1.25 4.31"/><line x1="491.70" y1="308.58" x2="697.60" y2="308.58" stroke="#b4b4b4" stroke-width="2.1" stroke-dasharray="1.25 4.31"/><line x1="491.70" y1="304.34" x2="697.60" y2="304.34" stroke="#b4b4b4" stroke-width="2.1" stroke-dasharray="1.25 4.31"/><line x1="532.18" y1="299.50" x2="532.18" y2="359.50" stroke="#e2e2e2" stroke-width="1.8"/><line x1="573.86" y1="299.50" x2="573.86" y2="359.50" stroke="#e2e2e2" stroke-width="1.8"/><line x1="615.54" y1="299.50" x2="615.54" y2="359.50" stroke="#e2e2e2" stroke-width="1.8"/><line x1="657.22" y1="299.50" x2="657.22" y2="359.50" stroke="#e2e2e2" stroke-width="1.8"/><line x1="490.50" y1="321.30" x2="698.60" y2="321.30" stroke="#e2e2e2" stroke-width="1.8"/><line x1="490.50" y1="342.50" x2="698.60" y2="342.50" stroke="#e2e2e2" stroke-width="1.8"/><rect x="490.50" y="299.50" width="208.10" height="60.00" fill="none" stroke="#262626" stroke-width="2.1"/><path d="M490.50 359.50v-3.2M490.50 299.50v3.2M532.18 359.50v-3.2M532.18 299.50v3.2M573.86 359.50v-3.2M573.86 299.50v3.2M615.54 359.50v-3.2M615.54 299.50v3.2M657.22 359.50v-3.2M657.22 299.50v3.2M698.60 359.50v-3.2M698.60 299.50v3.2M490.50 300.10h3.2M698.60 300.10h-3.2M490.50 321.30h3.2M698.60 321.30h-3.2M490.50 342.50h3.2M698.60 342.50h-3.2" stroke="#262626" stroke-width="1.8" fill="none"/><g fill="none" stroke="#0072BD" stroke-width="2.1"><circle cx="495.71" cy="358.91" r="3.9"/><circle cx="497.45" cy="359.22" r="3.9"/><circle cx="499.18" cy="358.17" r="3.9"/><circle cx="500.92" cy="357.89" r="3.9"/><circle cx="502.66" cy="357.66" r="3.9"/><circle cx="504.39" cy="356.28" r="3.9"/><circle cx="506.13" cy="355.88" r="3.9"/><circle cx="507.87" cy="354.69" r="3.9"/><circle cx="509.60" cy="354.14" r="3.9"/><circle cx="511.34" cy="351.67" r="3.9"/><circle cx="513.08" cy="350.88" r="3.9"/><circle cx="514.81" cy="349.65" r="3.9"/><circle cx="516.55" cy="351.32" r="3.9"/><circle cx="518.29" cy="351.59" r="3.9"/><circle cx="520.02" cy="353.05" r="3.9"/><circle cx="521.76" cy="353.29" r="3.9"/><circle cx="523.50" cy="353.18" r="3.9"/><circle cx="525.23" cy="354.39" r="3.9"/><circle cx="526.97" cy="353.46" r="3.9"/><circle cx="528.71" cy="353.16" r="3.9"/><circle cx="530.44" cy="353.01" r="3.9"/><circle cx="532.18" cy="354.74" r="3.9"/><circle cx="533.92" cy="355.03" r="3.9"/><circle cx="535.65" cy="353.85" r="3.9"/><circle cx="537.39" cy="354.41" r="3.9"/><circle cx="539.13" cy="354.64" r="3.9"/><circle cx="540.86" cy="353.52" r="3.9"/><circle cx="542.60" cy="354.33" r="3.9"/><circle cx="544.34" cy="355.77" r="3.9"/><circle cx="546.07" cy="354.40" r="3.9"/><circle cx="547.81" cy="356.10" r="3.9"/><circle cx="549.55" cy="355.72" r="3.9"/><circle cx="551.28" cy="352.52" r="3.9"/><circle cx="553.02" cy="351.10" r="3.9"/><circle cx="554.76" cy="350.42" r="3.9"/><circle cx="556.49" cy="349.51" r="3.9"/><circle cx="558.23" cy="348.44" r="3.9"/><circle cx="559.97" cy="347.29" r="3.9"/><circle cx="561.70" cy="347.74" r="3.9"/><circle cx="563.44" cy="346.37" r="3.9"/><circle cx="565.18" cy="336.78" r="3.9"/><circle cx="566.91" cy="333.42" r="3.9"/><circle cx="568.65" cy="331.57" r="3.9"/><circle cx="570.39" cy="330.57" r="3.9"/><circle cx="572.12" cy="331.20" r="3.9"/><circle cx="573.86" cy="329.46" r="3.9"/><circle cx="575.60" cy="328.93" r="3.9"/><circle cx="577.33" cy="330.97" r="3.9"/><circle cx="579.07" cy="332.30" r="3.9"/><circle cx="580.81" cy="333.32" r="3.9"/><circle cx="582.54" cy="332.18" r="3.9"/><circle cx="584.28" cy="330.71" r="3.9"/><circle cx="586.02" cy="329.38" r="3.9"/><circle cx="587.75" cy="327.77" r="3.9"/><circle cx="589.49" cy="327.37" r="3.9"/><circle cx="591.23" cy="326.46" r="3.9"/><circle cx="592.96" cy="324.40" r="3.9"/><circle cx="594.70" cy="323.95" r="3.9"/><circle cx="596.44" cy="322.82" r="3.9"/><circle cx="598.17" cy="320.73" r="3.9"/><circle cx="599.91" cy="319.15" r="3.9"/><circle cx="601.65" cy="317.40" r="3.9"/><circle cx="603.38" cy="314.72" r="3.9"/><circle cx="605.12" cy="314.26" r="3.9"/><circle cx="606.86" cy="315.85" r="3.9"/><circle cx="608.59" cy="317.00" r="3.9"/><circle cx="610.33" cy="317.17" r="3.9"/><circle cx="612.07" cy="317.78" r="3.9"/><circle cx="613.80" cy="317.05" r="3.9"/><circle cx="615.54" cy="317.00" r="3.9"/><circle cx="617.28" cy="305.80" r="3.9"/><circle cx="619.01" cy="310.00" r="3.9"/><circle cx="620.75" cy="312.89" r="3.9"/><circle cx="622.49" cy="316.00" r="3.9"/><circle cx="624.22" cy="317.69" r="3.9"/><circle cx="625.96" cy="320.62" r="3.9"/><circle cx="627.70" cy="321.98" r="3.9"/><circle cx="629.43" cy="324.87" r="3.9"/><circle cx="631.17" cy="326.85" r="3.9"/><circle cx="632.91" cy="329.29" r="3.9"/><circle cx="634.64" cy="332.87" r="3.9"/><circle cx="636.38" cy="342.20" r="3.9"/><circle cx="638.12" cy="337.50" r="3.9"/><circle cx="639.85" cy="335.50" r="3.9"/><circle cx="641.59" cy="335.46" r="3.9"/><circle cx="643.33" cy="335.12" r="3.9"/><circle cx="645.06" cy="332.71" r="3.9"/><circle cx="646.80" cy="332.24" r="3.9"/><circle cx="648.54" cy="331.60" r="3.9"/><circle cx="650.27" cy="331.30" r="3.9"/><circle cx="652.01" cy="330.45" r="3.9"/><circle cx="653.75" cy="332.23" r="3.9"/><circle cx="655.48" cy="333.24" r="3.9"/><circle cx="657.22" cy="333.36" r="3.9"/><circle cx="658.96" cy="334.73" r="3.9"/><circle cx="660.69" cy="334.40" r="3.9"/><circle cx="662.43" cy="335.73" r="3.9"/></g><text x="482.20" y="306.50" font-size="18.8" text-anchor="end">4</text><text x="482.20" y="327.70" font-size="18.8" text-anchor="end">3</text><text x="482.20" y="348.90" font-size="18.8" text-anchor="end">2</text></g>
<g><line x1="148.60" y1="477.44" x2="354.50" y2="477.44" stroke="#b4b4b4" stroke-width="2.1" stroke-dasharray="1.25 4.31"/><line x1="148.60" y1="467.98" x2="354.50" y2="467.98" stroke="#b4b4b4" stroke-width="2.1" stroke-dasharray="1.25 4.31"/><line x1="148.60" y1="458.52" x2="354.50" y2="458.52" stroke="#b4b4b4" stroke-width="2.1" stroke-dasharray="1.25 4.31"/><line x1="148.60" y1="449.06" x2="354.50" y2="449.06" stroke="#b4b4b4" stroke-width="2.1" stroke-dasharray="1.25 4.31"/><line x1="148.60" y1="430.14" x2="354.50" y2="430.14" stroke="#b4b4b4" stroke-width="2.1" stroke-dasharray="1.25 4.31"/><line x1="188.95" y1="427.10" x2="188.95" y2="486.90" stroke="#e2e2e2" stroke-width="1.8"/><line x1="230.50" y1="427.10" x2="230.50" y2="486.90" stroke="#e2e2e2" stroke-width="1.8"/><line x1="272.05" y1="427.10" x2="272.05" y2="486.90" stroke="#e2e2e2" stroke-width="1.8"/><line x1="313.60" y1="427.10" x2="313.60" y2="486.90" stroke="#e2e2e2" stroke-width="1.8"/><line x1="147.40" y1="439.60" x2="355.50" y2="439.60" stroke="#e2e2e2" stroke-width="1.8"/><rect x="147.40" y="427.10" width="208.10" height="59.80" fill="none" stroke="#262626" stroke-width="2.1"/><path d="M147.40 486.90v-3.2M147.40 427.10v3.2M188.95 486.90v-3.2M188.95 427.10v3.2M230.50 486.90v-3.2M230.50 427.10v3.2M272.05 486.90v-3.2M272.05 427.10v3.2M313.60 486.90v-3.2M313.60 427.10v3.2M355.15 486.90v-3.2M355.15 427.10v3.2M147.40 439.60h3.2M355.50 439.60h-3.2M147.40 486.90h3.2M355.50 486.90h-3.2" stroke="#262626" stroke-width="1.8" fill="none"/><g fill="none" stroke="#0072BD" stroke-width="2.1"><circle cx="152.59" cy="472.89" r="3.9"/><circle cx="154.33" cy="472.82" r="3.9"/><circle cx="156.06" cy="474.60" r="3.9"/><circle cx="157.79" cy="475.59" r="3.9"/><circle cx="159.52" cy="475.91" r="3.9"/><circle cx="161.25" cy="476.25" r="3.9"/><circle cx="162.98" cy="475.46" r="3.9"/><circle cx="164.71" cy="475.36" r="3.9"/><circle cx="166.44" cy="475.56" r="3.9"/><circle cx="168.18" cy="475.32" r="3.9"/><circle cx="169.91" cy="476.37" r="3.9"/><circle cx="171.64" cy="475.76" r="3.9"/><circle cx="173.37" cy="473.52" r="3.9"/><circle cx="175.10" cy="473.14" r="3.9"/><circle cx="176.83" cy="472.37" r="3.9"/><circle cx="178.56" cy="470.42" r="3.9"/><circle cx="180.29" cy="470.97" r="3.9"/><circle cx="182.03" cy="469.56" r="3.9"/><circle cx="183.76" cy="468.62" r="3.9"/><circle cx="185.49" cy="468.34" r="3.9"/><circle cx="187.22" cy="468.90" r="3.9"/><circle cx="188.95" cy="470.56" r="3.9"/><circle cx="190.68" cy="471.20" r="3.9"/><circle cx="192.41" cy="471.68" r="3.9"/><circle cx="194.14" cy="471.76" r="3.9"/><circle cx="195.88" cy="472.33" r="3.9"/><circle cx="197.61" cy="471.98" r="3.9"/><circle cx="199.34" cy="472.72" r="3.9"/><circle cx="201.07" cy="472.55" r="3.9"/><circle cx="202.80" cy="473.15" r="3.9"/><circle cx="204.53" cy="473.47" r="3.9"/><circle cx="206.26" cy="473.08" r="3.9"/><circle cx="207.99" cy="473.24" r="3.9"/><circle cx="209.72" cy="473.38" r="3.9"/><circle cx="211.46" cy="473.81" r="3.9"/><circle cx="213.19" cy="474.14" r="3.9"/><circle cx="214.92" cy="474.39" r="3.9"/><circle cx="216.65" cy="474.71" r="3.9"/><circle cx="218.38" cy="474.43" r="3.9"/><circle cx="220.11" cy="474.38" r="3.9"/><circle cx="221.84" cy="486.90" r="3.9"/><circle cx="223.57" cy="486.90" r="3.9"/><circle cx="225.31" cy="486.90" r="3.9"/><circle cx="227.04" cy="486.90" r="3.9"/><circle cx="228.77" cy="486.90" r="3.9"/><circle cx="230.50" cy="486.90" r="3.9"/><circle cx="232.23" cy="486.90" r="3.9"/><circle cx="233.96" cy="480.00" r="3.9"/><circle cx="235.69" cy="471.60" r="3.9"/><circle cx="237.43" cy="470.40" r="3.9"/><circle cx="239.16" cy="480.80" r="3.9"/><circle cx="240.89" cy="486.90" r="3.9"/><circle cx="242.62" cy="486.90" r="3.9"/><circle cx="244.35" cy="486.90" r="3.9"/><circle cx="246.08" cy="486.90" r="3.9"/><circle cx="247.81" cy="486.90" r="3.9"/><circle cx="249.54" cy="486.90" r="3.9"/><circle cx="251.28" cy="486.90" r="3.9"/><circle cx="253.01" cy="483.10" r="3.9"/><circle cx="254.74" cy="486.90" r="3.9"/><circle cx="256.47" cy="486.90" r="3.9"/><circle cx="258.20" cy="486.90" r="3.9"/><circle cx="259.93" cy="486.90" r="3.9"/><circle cx="261.66" cy="486.90" r="3.9"/><circle cx="263.39" cy="486.90" r="3.9"/><circle cx="265.12" cy="486.90" r="3.9"/><circle cx="266.86" cy="486.90" r="3.9"/><circle cx="268.59" cy="486.90" r="3.9"/><circle cx="270.32" cy="486.90" r="3.9"/><circle cx="272.05" cy="486.90" r="3.9"/><circle cx="273.78" cy="486.90" r="3.9"/><circle cx="275.51" cy="486.90" r="3.9"/><circle cx="277.24" cy="486.90" r="3.9"/><circle cx="278.98" cy="486.90" r="3.9"/><circle cx="280.71" cy="486.90" r="3.9"/><circle cx="282.44" cy="486.90" r="3.9"/><circle cx="284.17" cy="486.90" r="3.9"/><circle cx="285.90" cy="486.90" r="3.9"/><circle cx="287.63" cy="486.90" r="3.9"/><circle cx="289.36" cy="472.80" r="3.9"/><circle cx="291.09" cy="461.80" r="3.9"/><circle cx="292.82" cy="427.10" r="3.9"/><circle cx="294.56" cy="428.80" r="3.9"/><circle cx="296.29" cy="454.70" r="3.9"/><circle cx="298.02" cy="461.40" r="3.9"/><circle cx="299.75" cy="461.80" r="3.9"/><circle cx="301.48" cy="474.70" r="3.9"/><circle cx="303.21" cy="486.90" r="3.9"/><circle cx="304.94" cy="486.90" r="3.9"/><circle cx="306.68" cy="486.90" r="3.9"/><circle cx="308.41" cy="486.90" r="3.9"/><circle cx="310.14" cy="484.50" r="3.9"/><circle cx="311.87" cy="479.00" r="3.9"/><circle cx="313.60" cy="475.00" r="3.9"/><circle cx="315.33" cy="472.80" r="3.9"/><circle cx="317.06" cy="472.10" r="3.9"/><circle cx="318.79" cy="472.50" r="3.9"/></g><text x="138.20" y="446.00" font-size="18.8" text-anchor="end">500</text><text x="138.20" y="493.30" font-size="18.8" text-anchor="end">0</text></g>
<g><line x1="491.70" y1="480.94" x2="697.60" y2="480.94" stroke="#b4b4b4" stroke-width="2.1" stroke-dasharray="1.25 4.31"/><line x1="491.70" y1="474.98" x2="697.60" y2="474.98" stroke="#b4b4b4" stroke-width="2.1" stroke-dasharray="1.25 4.31"/><line x1="491.70" y1="469.02" x2="697.60" y2="469.02" stroke="#b4b4b4" stroke-width="2.1" stroke-dasharray="1.25 4.31"/><line x1="491.70" y1="463.06" x2="697.60" y2="463.06" stroke="#b4b4b4" stroke-width="2.1" stroke-dasharray="1.25 4.31"/><line x1="491.70" y1="451.14" x2="697.60" y2="451.14" stroke="#b4b4b4" stroke-width="2.1" stroke-dasharray="1.25 4.31"/><line x1="491.70" y1="445.18" x2="697.60" y2="445.18" stroke="#b4b4b4" stroke-width="2.1" stroke-dasharray="1.25 4.31"/><line x1="491.70" y1="439.22" x2="697.60" y2="439.22" stroke="#b4b4b4" stroke-width="2.1" stroke-dasharray="1.25 4.31"/><line x1="491.70" y1="433.26" x2="697.60" y2="433.26" stroke="#b4b4b4" stroke-width="2.1" stroke-dasharray="1.25 4.31"/><line x1="532.18" y1="427.10" x2="532.18" y2="486.90" stroke="#e2e2e2" stroke-width="1.8"/><line x1="573.86" y1="427.10" x2="573.86" y2="486.90" stroke="#e2e2e2" stroke-width="1.8"/><line x1="615.54" y1="427.10" x2="615.54" y2="486.90" stroke="#e2e2e2" stroke-width="1.8"/><line x1="657.22" y1="427.10" x2="657.22" y2="486.90" stroke="#e2e2e2" stroke-width="1.8"/><line x1="490.50" y1="457.10" x2="698.60" y2="457.10" stroke="#e2e2e2" stroke-width="1.8"/><rect x="490.50" y="427.10" width="208.10" height="59.80" fill="none" stroke="#262626" stroke-width="2.1"/><path d="M490.50 486.90v-3.2M490.50 427.10v3.2M532.18 486.90v-3.2M532.18 427.10v3.2M573.86 486.90v-3.2M573.86 427.10v3.2M615.54 486.90v-3.2M615.54 427.10v3.2M657.22 486.90v-3.2M657.22 427.10v3.2M698.60 486.90v-3.2M698.60 427.10v3.2M490.50 427.30h3.2M698.60 427.30h-3.2M490.50 457.10h3.2M698.60 457.10h-3.2M490.50 486.90h3.2M698.60 486.90h-3.2" stroke="#262626" stroke-width="1.8" fill="none"/><g fill="none" stroke="#0072BD" stroke-width="2.1"><circle cx="495.71" cy="486.90" r="3.9"/><circle cx="497.45" cy="486.90" r="3.9"/><circle cx="499.18" cy="486.90" r="3.9"/><circle cx="500.92" cy="486.90" r="3.9"/><circle cx="502.66" cy="477.80" r="3.9"/><circle cx="504.39" cy="471.80" r="3.9"/><circle cx="506.13" cy="467.00" r="3.9"/><circle cx="507.87" cy="458.50" r="3.9"/><circle cx="509.60" cy="454.00" r="3.9"/><circle cx="511.34" cy="450.80" r="3.9"/><circle cx="513.08" cy="458.00" r="3.9"/><circle cx="514.81" cy="464.00" r="3.9"/><circle cx="516.55" cy="467.00" r="3.9"/><circle cx="518.29" cy="468.20" r="3.9"/><circle cx="520.02" cy="468.80" r="3.9"/><circle cx="521.76" cy="471.50" r="3.9"/><circle cx="523.50" cy="476.50" r="3.9"/><circle cx="525.23" cy="481.50" r="3.9"/><circle cx="526.97" cy="486.90" r="3.9"/><circle cx="528.71" cy="486.90" r="3.9"/><circle cx="530.44" cy="486.90" r="3.9"/><circle cx="532.18" cy="486.90" r="3.9"/><circle cx="533.92" cy="486.90" r="3.9"/><circle cx="535.65" cy="486.90" r="3.9"/><circle cx="537.39" cy="486.90" r="3.9"/><circle cx="539.13" cy="486.90" r="3.9"/><circle cx="540.86" cy="486.90" r="3.9"/><circle cx="542.60" cy="486.90" r="3.9"/><circle cx="544.34" cy="470.60" r="3.9"/><circle cx="546.07" cy="455.00" r="3.9"/><circle cx="547.81" cy="442.20" r="3.9"/><circle cx="549.55" cy="435.20" r="3.9"/><circle cx="551.28" cy="434.00" r="3.9"/><circle cx="553.02" cy="427.40" r="3.9"/><circle cx="554.76" cy="434.00" r="3.9"/><circle cx="556.49" cy="438.80" r="3.9"/><circle cx="558.23" cy="444.20" r="3.9"/><circle cx="559.97" cy="449.60" r="3.9"/><circle cx="561.70" cy="456.20" r="3.9"/><circle cx="563.44" cy="464.00" r="3.9"/><circle cx="565.18" cy="471.20" r="3.9"/><circle cx="566.91" cy="479.60" r="3.9"/><circle cx="568.65" cy="486.90" r="3.9"/><circle cx="570.39" cy="486.90" r="3.9"/><circle cx="572.12" cy="486.90" r="3.9"/><circle cx="573.86" cy="486.90" r="3.9"/><circle cx="575.60" cy="486.90" r="3.9"/><circle cx="577.33" cy="486.90" r="3.9"/><circle cx="579.07" cy="486.90" r="3.9"/><circle cx="580.81" cy="486.90" r="3.9"/><circle cx="582.54" cy="486.64" r="3.9"/><circle cx="584.28" cy="485.34" r="3.9"/><circle cx="586.02" cy="483.76" r="3.9"/><circle cx="587.75" cy="481.98" r="3.9"/><circle cx="589.49" cy="480.11" r="3.9"/><circle cx="591.23" cy="477.51" r="3.9"/><circle cx="592.96" cy="473.28" r="3.9"/><circle cx="594.70" cy="467.06" r="3.9"/><circle cx="596.44" cy="462.78" r="3.9"/><circle cx="598.17" cy="462.54" r="3.9"/><circle cx="599.91" cy="463.93" r="3.9"/><circle cx="601.65" cy="468.12" r="3.9"/><circle cx="603.38" cy="472.15" r="3.9"/><circle cx="605.12" cy="475.65" r="3.9"/><circle cx="606.86" cy="478.32" r="3.9"/><circle cx="608.59" cy="480.94" r="3.9"/><circle cx="610.33" cy="483.77" r="3.9"/><circle cx="612.07" cy="486.90" r="3.9"/><circle cx="613.80" cy="486.90" r="3.9"/><circle cx="615.54" cy="486.90" r="3.9"/><circle cx="617.28" cy="486.90" r="3.9"/><circle cx="619.01" cy="486.90" r="3.9"/><circle cx="620.75" cy="486.90" r="3.9"/><circle cx="622.49" cy="486.90" r="3.9"/><circle cx="624.22" cy="486.90" r="3.9"/><circle cx="625.96" cy="486.90" r="3.9"/><circle cx="627.70" cy="486.90" r="3.9"/><circle cx="629.43" cy="486.90" r="3.9"/><circle cx="631.17" cy="484.18" r="3.9"/><circle cx="632.91" cy="478.79" r="3.9"/><circle cx="634.64" cy="474.40" r="3.9"/><circle cx="636.38" cy="467.86" r="3.9"/><circle cx="638.12" cy="463.16" r="3.9"/><circle cx="639.85" cy="462.14" r="3.9"/><circle cx="641.59" cy="461.82" r="3.9"/><circle cx="643.33" cy="464.92" r="3.9"/><circle cx="645.06" cy="470.15" r="3.9"/><circle cx="646.80" cy="475.43" r="3.9"/><circle cx="648.54" cy="479.47" r="3.9"/><circle cx="650.27" cy="483.75" r="3.9"/><circle cx="652.01" cy="486.90" r="3.9"/><circle cx="653.75" cy="486.90" r="3.9"/><circle cx="655.48" cy="486.90" r="3.9"/><circle cx="657.22" cy="486.90" r="3.9"/><circle cx="658.96" cy="486.90" r="3.9"/><circle cx="660.69" cy="486.90" r="3.9"/><circle cx="662.43" cy="486.90" r="3.9"/></g><text x="482.20" y="433.70" font-size="18.8" text-anchor="end">200</text><text x="482.20" y="463.50" font-size="18.8" text-anchor="end">100</text><text x="482.20" y="493.30" font-size="18.8" text-anchor="end">0</text></g>
<text x="181.50" y="31.70" font-size="20.8" font-weight="bold" fill="#000" textLength="140.05" lengthAdjust="spacingAndGlyphs">Figure 2 high</text>
<text x="226.20" y="575.70" font-size="22" textLength="50.03" lengthAdjust="spacingAndGlyphs">Time</text>
<text x="569.30" y="575.70" font-size="22" textLength="50.03" lengthAdjust="spacingAndGlyphs">Time</text>
<text transform="translate(159.80 509.3) rotate(-45)" font-size="19.2" text-anchor="end" textLength="51.5" lengthAdjust="spacingAndGlyphs">02/06</text>
<text transform="translate(201.35 509.3) rotate(-45)" font-size="19.2" text-anchor="end" textLength="51.5" lengthAdjust="spacingAndGlyphs">02/07</text>
<text transform="translate(242.90 509.3) rotate(-45)" font-size="19.2" text-anchor="end" textLength="51.5" lengthAdjust="spacingAndGlyphs">02/08</text>
<text transform="translate(284.45 509.3) rotate(-45)" font-size="19.2" text-anchor="end" textLength="51.5" lengthAdjust="spacingAndGlyphs">02/09</text>
<text transform="translate(326.00 509.3) rotate(-45)" font-size="19.2" text-anchor="end" textLength="51.5" lengthAdjust="spacingAndGlyphs">02/10</text>
<text transform="translate(367.55 509.3) rotate(-45)" font-size="19.2" text-anchor="end" textLength="51.5" lengthAdjust="spacingAndGlyphs">02/11</text>
<text transform="translate(502.90 509.3) rotate(-45)" font-size="19.2" text-anchor="end" textLength="51.5" lengthAdjust="spacingAndGlyphs">02/06</text>
<text transform="translate(544.58 509.3) rotate(-45)" font-size="19.2" text-anchor="end" textLength="51.5" lengthAdjust="spacingAndGlyphs">02/07</text>
<text transform="translate(586.26 509.3) rotate(-45)" font-size="19.2" text-anchor="end" textLength="51.5" lengthAdjust="spacingAndGlyphs">02/08</text>
<text transform="translate(627.94 509.3) rotate(-45)" font-size="19.2" text-anchor="end" textLength="51.5" lengthAdjust="spacingAndGlyphs">02/09</text>
<text transform="translate(669.62 509.3) rotate(-45)" font-size="19.2" text-anchor="end" textLength="51.5" lengthAdjust="spacingAndGlyphs">02/10</text>
<text transform="translate(711.30 509.3) rotate(-45)" font-size="19.2" text-anchor="end" textLength="51.5" lengthAdjust="spacingAndGlyphs">02/11</text>
<text transform="translate(84.20 125.20) rotate(-90)" font-size="22.2" textLength="102.04" lengthAdjust="spacingAndGlyphs">PRESSURE</text>
<text transform="translate(84.20 384.30) rotate(-90)" font-size="22.2" textLength="107.61" lengthAdjust="spacingAndGlyphs">MIXDEPTH</text>
<text transform="translate(438.20 106.80) rotate(-90)" font-size="22.2" textLength="65.50" lengthAdjust="spacingAndGlyphs">THETA</text>
<text transform="translate(444.80 250.50) rotate(-90)" font-size="22.2" textLength="96.06" lengthAdjust="spacingAndGlyphs">RAINFALL</text>
<text transform="translate(460.00 384.80) rotate(-90)" font-size="22.2" textLength="109.53" lengthAdjust="spacingAndGlyphs">H2OMIXRA</text>
<text transform="translate(86.00 244.70) rotate(-90)" font-size="22.2" textLength="32.53" lengthAdjust="spacingAndGlyphs">AIR</text>
<text transform="translate(95.60 210.50) rotate(-90)" font-size="16.6" textLength="9.08" lengthAdjust="spacingAndGlyphs">T</text>
<text transform="translate(86.00 199.70) rotate(-90)" font-size="22.2" textLength="43.11" lengthAdjust="spacingAndGlyphs">EMP</text>
<text transform="translate(85.80 501.40) rotate(-90)" font-size="22.2" textLength="48.52" lengthAdjust="spacingAndGlyphs">TERR</text>
<text transform="translate(95.40 449.70) rotate(-90)" font-size="16.6" textLength="14.40" lengthAdjust="spacingAndGlyphs">M</text>
<text transform="translate(85.80 435.50) rotate(-90)" font-size="22.2" textLength="23.12" lengthAdjust="spacingAndGlyphs">SL</text>
<text transform="translate(398.80 504.40) rotate(-90)" font-size="22.2" textLength="43.17" lengthAdjust="spacingAndGlyphs">SUN</text>
<text transform="translate(407.80 457.60) rotate(-90)" font-size="16.6" textLength="6.37" lengthAdjust="spacingAndGlyphs">F</text>
<text transform="translate(398.80 448.60) rotate(-90)" font-size="22.2" textLength="38.60" lengthAdjust="spacingAndGlyphs">LUX</text>
</svg>
</body></html>
